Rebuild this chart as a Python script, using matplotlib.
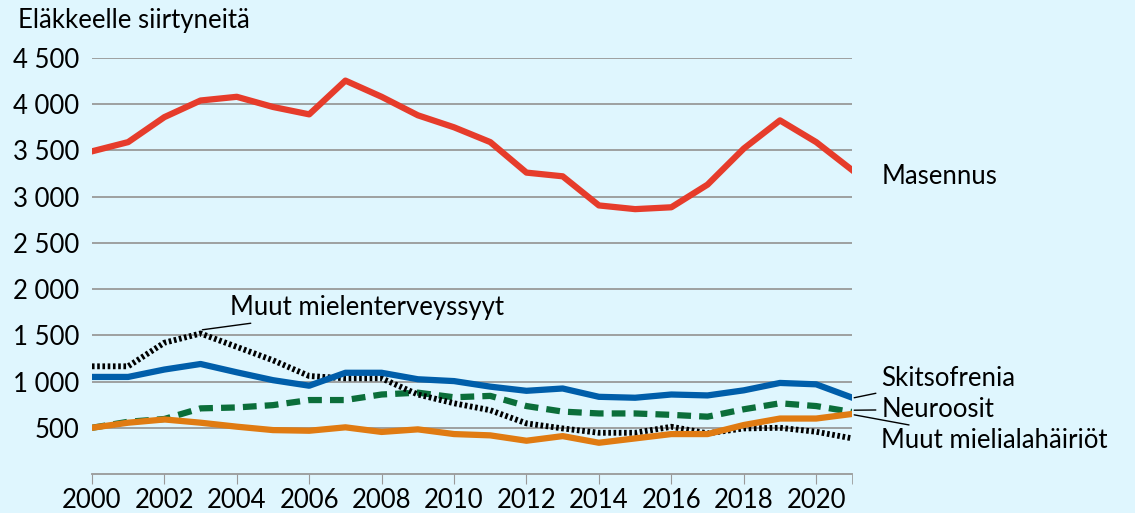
import matplotlib.pyplot as plt

plt.rcParams['font.family'] = ['Lato', 'DejaVu Sans']

years = list(range(2000, 2022))
masennus = [3490, 3590, 3860, 4040, 4080, 3970, 3890, 4255, 4080, 3880, 3750, 3590,
            3260, 3220, 2905, 2865, 2885, 3130, 3520, 3825, 3590, 3285]
skitsofrenia = [1050, 1050, 1130, 1190, 1100, 1015, 955, 1095, 1095, 1025, 1005, 945,
                900, 925, 835, 825, 860, 850, 905, 985, 970, 825]
neuroosit = [500, 565, 595, 710, 720, 745, 800, 800, 860, 880, 830, 845,
             735, 675, 655, 655, 640, 620, 700, 765, 735, 670]
mieliala = [500, 555, 590, 555, 512, 475, 468, 505, 455, 483, 432, 418,
            360, 410, 338, 385, 432, 432, 530, 600, 600, 650]
muut = [1165, 1165, 1420, 1520, 1375, 1230, 1060, 1035, 1035, 860, 765, 690,
        548, 493, 446, 446, 511, 440, 493, 500, 457, 385]

bg = '#dff6fe'
fig = plt.figure(figsize=(11.35, 5.13), dpi=100, facecolor=bg)
ax = fig.add_axes([0.081, 0.076, 0.670, 0.811], facecolor=bg)

ax.plot(years, neuroosit, color='#0b6e3a', lw=4.5, linestyle=(0, (2.2, 1.3)))
ax.plot(years, muut, color='black', lw=4.2, linestyle=(0, (0.45, 0.45)))
ax.plot(years, mieliala, color='#e07b12', lw=4.5, solid_joinstyle='round')
ax.plot(years, skitsofrenia, color='#005eaa', lw=4.5, solid_joinstyle='round')
ax.plot(years, masennus, color='#e63c2b', lw=4.5, solid_joinstyle='round')

fs = 18.5

ax.set_xlim(2000, 2021)
ax.set_ylim(0, 4500)
yt = list(range(500, 4501, 500))
ax.set_yticks(yt)
ax.set_yticklabels([f'{v:,}'.replace(',', ' ') for v in yt])
ax.yaxis.grid(True, color='#999999', lw=1.3)
ax.set_axisbelow(True)
ax.set_xticks(list(range(2000, 2021, 2)))
ax.set_xticks([2021], minor=True)
ax.tick_params(axis='x', which='both', direction='out', length=7, color='#999999',
               labelsize=fs, pad=3)
ax.tick_params(axis='y', length=0, labelsize=fs, pad=9)
for s in ['top', 'right', 'left']:
    ax.spines[s].set_visible(False)
ax.spines['bottom'].set_color('#999999')
ax.spines['bottom'].set_linewidth(1.3)

fig.text(0.016, 0.96, 'Eläkkeelle siirtyneitä', fontsize=fs, va='center')

ax.annotate('Masennus', xy=(2021, masennus[-1]), xytext=(2021.8, 3215),
            fontsize=fs, va='center', annotation_clip=False)
ax.annotate('Skitsofrenia', xy=(2021.05, skitsofrenia[-1]), xytext=(2021.8, 1035),
            fontsize=fs, va='center', annotation_clip=False,
            arrowprops=dict(arrowstyle='-', color='black', lw=1, shrinkA=2, shrinkB=0))
ax.annotate('Neuroosit', xy=(2021.05, 690), xytext=(2021.8, 700),
            fontsize=fs, va='center', annotation_clip=False,
            arrowprops=dict(arrowstyle='-', color='black', lw=1, shrinkA=2, shrinkB=0))
ax.annotate('Muut mielialahäiriöt', xy=(2021.05, 640), xytext=(2021.8, 360),
            fontsize=fs, va='center', annotation_clip=False,
            arrowprops=dict(arrowstyle='-', color='black', lw=1, shrinkA=2, shrinkB=0))
ax.annotate('Muut mielenterveyssyyt', xy=(2003.05, 1560), xytext=(2003.8, 1800),
            fontsize=fs, va='center', annotation_clip=False,
            arrowprops=dict(arrowstyle='-', color='black', lw=1, shrinkA=2, shrinkB=0))

fig.savefig('out.png', dpi=100, facecolor=bg)
